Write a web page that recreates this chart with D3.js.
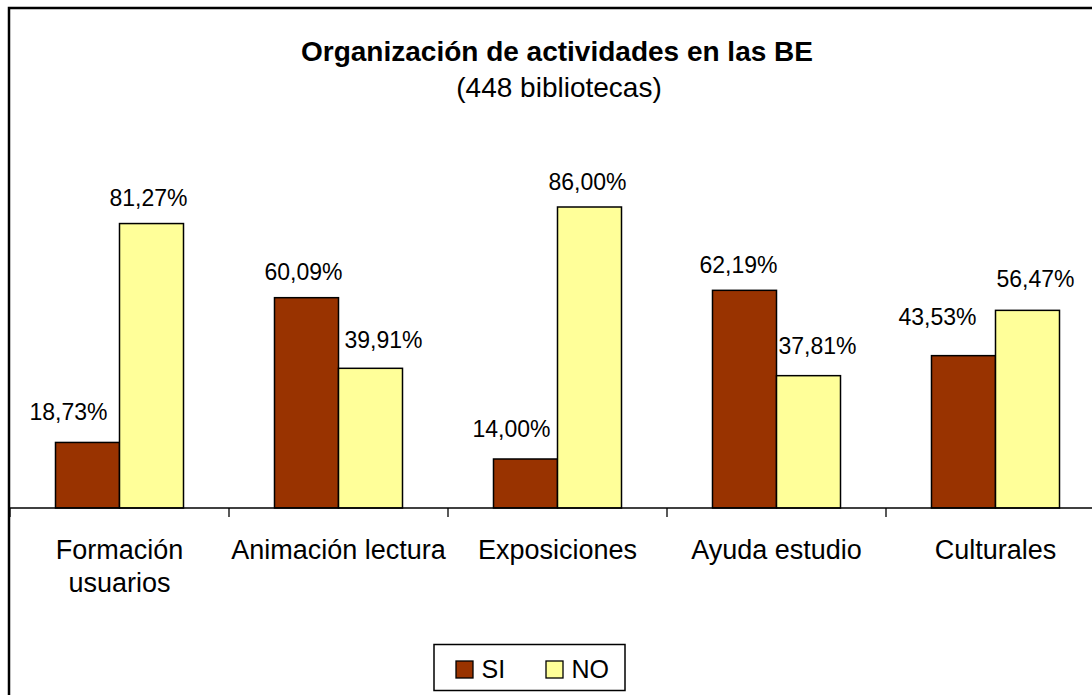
<!DOCTYPE html>
<html>
<head>
<meta charset="utf-8">
<script src="https://cdn.jsdelivr.net/npm/d3@7"></script>
<style>
html,body{margin:0;padding:0;background:#fff;}
svg{display:block;font-family:Arial,"Liberation Sans",sans-serif;}
</style>
</head>
<body>
<svg id="chart" width="1092" height="695"></svg>
<script>
const categories = [["Formación","usuarios"],["Animación lectura"],["Exposiciones"],["Ayuda estudio"],["Culturales"]];
const seriesNames = ["SI","NO"];
const siValues = [18.73, 60.09, 14.00, 62.19, 43.53];
const noValues = [81.27, 39.91, 86.00, 37.81, 56.47];
const seriesColors = ["#993300","#FFFF99"];
const titleText = "Organización de actividades en las BE";
const subtitleText = "(448 bibliotecas)";

// label placement nudges (layout only), as seen in the reference
const labelDx = [[-19, -3, -14, -6, -26], [-3, 13, -2, 9, 8]];
const labelGap = [[22, 18, 22, 17, 31], [18, 20, 17, 22, 23]];

const svg = d3.select("#chart");
const catKeys = categories.map(c => c.join(" "));
const series = [siValues, noValues];

// frame
svg.append("rect").attr("x",9).attr("y",8).attr("width",1300).attr("height",900)
  .attr("fill","#fff").attr("stroke","#000").attr("stroke-width",2.5);

const x0 = d3.scaleBand().domain(catKeys).range([10,1105]).paddingInner(0.4155).paddingOuter(0.20775);
const x1 = d3.scaleBand().domain(seriesNames).range([0, x0.bandwidth()]);
const y = d3.scaleLinear().domain([0,100]).range([508,158]);

const fmt = v => d3.format(".2f")(v).replace(".", ",") + "%";

// title
svg.append("text").text(titleText).attr("x",557).attr("y",61).attr("text-anchor","middle")
  .attr("font-size",28).attr("font-weight","bold").attr("fill","#000");
svg.append("text").text(subtitleText).attr("x",559).attr("y",97).attr("text-anchor","middle")
  .attr("font-size",28).attr("fill","#000");

// bars
const g = svg.append("g");
catKeys.forEach((k,i) => {
  seriesNames.forEach((s,j) => {
    const v = series[j][i];
    const bx = x0(k) + x1(s);
    g.append("rect")
      .attr("x", bx).attr("y", y(v))
      .attr("width", x1.bandwidth()).attr("height", y(0)-y(v))
      .attr("fill", seriesColors[j]).attr("stroke","#000").attr("stroke-width",1.5);
    g.append("text").text(fmt(v))
      .attr("x", bx + x1.bandwidth()/2 + labelDx[j][i])
      .attr("y", y(v) - labelGap[j][i])
      .attr("text-anchor","middle")
      .attr("font-size",23).attr("fill","#000");
  });
});

// axis
const step = x0.step();
const ax = svg.append("g");
ax.append("line").attr("x1",9).attr("x2",1300).attr("y1",y(0)).attr("y2",y(0))
  .attr("stroke","#000").attr("stroke-width",1.3);
d3.range(catKeys.length+1).forEach(i => {
  const tx = 10 + i*step;
  ax.append("line").attr("x1",tx).attr("x2",tx).attr("y1",y(0)).attr("y2",y(0)+9)
    .attr("stroke","#000").attr("stroke-width",1.3);
});
categories.forEach((lines,i) => {
  const cx = x0(catKeys[i]) + x0.bandwidth()/2;
  lines.forEach((ln,j) => {
    ax.append("text").text(ln).attr("x",cx).attr("y",559 + j*33).attr("text-anchor","middle")
      .attr("font-size",27).attr("fill","#000");
  });
});

// legend
const lg = svg.append("g");
lg.append("rect").attr("x",434).attr("y",644.5).attr("width",191).attr("height",46)
  .attr("fill","#fff").attr("stroke","#000").attr("stroke-width",1.5);
const legX = [456, 546];
seriesNames.forEach((s,j) => {
  lg.append("rect").attr("x",legX[j]).attr("y",661).attr("width",17).attr("height",17)
    .attr("fill",seriesColors[j]).attr("stroke","#000").attr("stroke-width",1.3);
  lg.append("text").text(s).attr("x",legX[j]+25.5).attr("y",678)
    .attr("font-size",25).attr("fill","#000");
});
</script>
</body>
</html>
